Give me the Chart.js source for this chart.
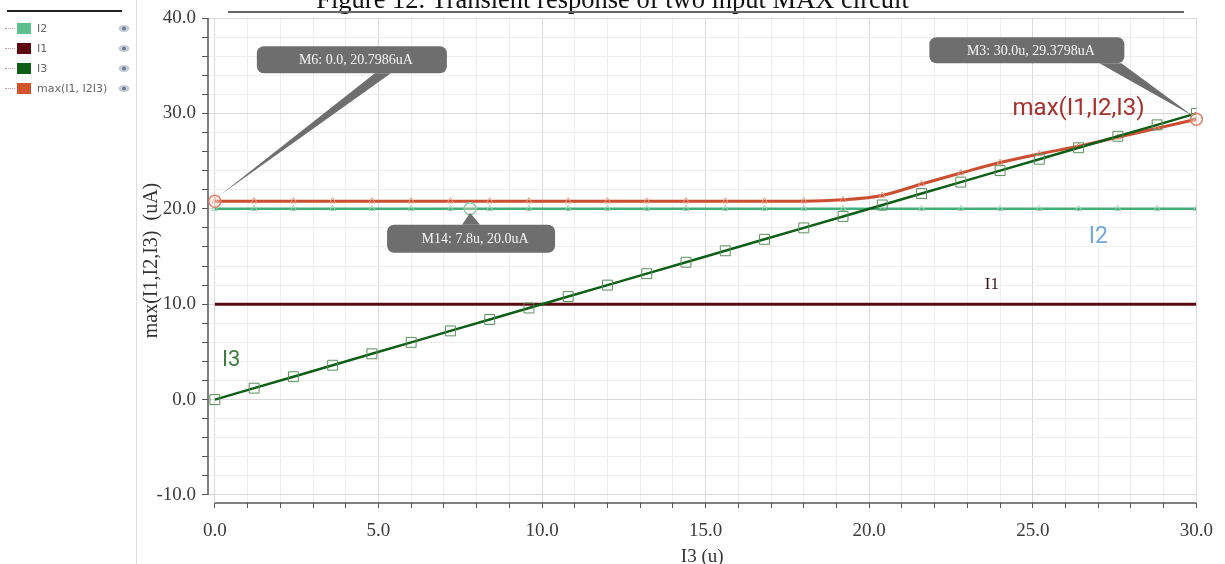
<!DOCTYPE html>
<html lang="en">
<head>
    <meta charset="UTF-8">
    <title>Transient response of two input MAX circuit</title>
    <script src="https://cdn.jsdelivr.net/npm/chart.js"></script>
    <style>
        body { margin: 0; background: #fff; overflow: hidden; }
        #wrap { position: relative; width: 1225px; height: 564px; }
        #chart { position: absolute; left: 0; top: 0; }
        .side { position: absolute; left: 0; top: 0; width: 136px; height: 564px; border-right: 1px solid #dedede; }
        .side .bar { position: absolute; left: 7px; top: 10px; width: 115px; height: 2px; background: #222; }
        .row { position: absolute; left: 0; height: 14px; width: 136px; font: 11px 'DejaVu Sans', sans-serif; color: #666; }
        .row .dash { position: absolute; left: 5px; top: 6px; width: 10px; border-top: 1px dotted #c99; }
        .row .sw { position: absolute; left: 17px; top: 1px; width: 14px; height: 11px; }
        .row .lbl { position: absolute; left: 37px; top: 0; line-height: 13px; white-space: nowrap; }
        .row svg { position: absolute; left: 118px; top: 2px; }
        .title { position: absolute; left: 0; width: 1225px; text-align: center; top: -16px;
                 font: 26.5px 'Liberation Serif', 'Times New Roman', serif; color: #111; white-space: nowrap; }
        .title-line { position: absolute; left: 228px; width: 956px; top: 11px; height: 2px; background: #666; }
    </style>
</head>
<body>
<div id="wrap">
    <canvas id="chart" width="1225" height="564"></canvas>
    <div class="title">Figure 12. Transient response of two input MAX circuit</div>
    <div class="title-line"></div>
    <div class="side">
        <div class="bar"></div>
        <div id="legendRows"></div>
    </div>
</div>
<script>
    // sample points (x axis, I3 sweep in u)
    const times = [0.0, 1.2, 2.4, 3.6, 4.8, 6.0, 7.2, 8.4, 9.6, 10.8, 12.0, 13.2, 14.4,
        15.6, 16.8, 18.0, 19.2, 20.4, 21.6, 22.8, 24.0, 25.2, 26.4, 27.6, 28.8, 30.0];
    const i3Values = [0.0, 1.2, 2.4, 3.6, 4.8, 6.0, 7.2, 8.4, 9.6, 10.8, 12.0, 13.2, 14.4,
        15.6, 16.8, 18.0, 19.2, 20.4, 21.6, 22.8, 24.0, 25.2, 26.4, 27.6, 28.8, 30.0];
    const i1Values = [10, 10, 10, 10, 10, 10, 10, 10, 10, 10, 10, 10, 10,
        10, 10, 10, 10, 10, 10, 10, 10, 10, 10, 10, 10, 10];
    const i2Values = [20, 20, 20, 20, 20, 20, 20, 20, 20, 20, 20, 20, 20,
        20, 20, 20, 20, 20, 20, 20, 20, 20, 20, 20, 20, 20];
    const maxValues = [20.80, 20.80, 20.80, 20.80, 20.80, 20.80, 20.80, 20.80, 20.80, 20.80, 20.80, 20.80, 20.80,
        20.80, 20.80, 20.80, 20.95, 21.40, 22.60, 23.75, 24.85, 25.75, 26.55, 27.50, 28.45, 29.38];

    const xTicks = [0, 1, 2, 3, 4, 5, 6, 7, 8, 9, 10, 11, 12, 13, 14, 15, 16, 17, 18, 19, 20,
        21, 22, 23, 24, 25, 26, 27, 28, 29, 30];
    const yTicks = [-10, -8, -6, -4, -2, 0, 2, 4, 6, 8, 10, 12, 14, 16, 18, 20, 22, 24, 26, 28,
        30, 32, 34, 36, 38, 40];

    // markers placed on the waveforms
    const markerNames = ['M6', 'M14', 'M3'];
    const markerX = [0.0, 7.8, 30.0];
    const markerY = [20.7986, 20.0, 29.3798];
    const markerText = ['M6: 0.0, 20.7986uA', 'M14: 7.8u, 20.0uA', 'M3: 30.0u, 29.3798uA'];

    const legendNames = ['I2', 'I1', 'I3', 'max(I1, I2I3)'];
    const legendColors = ['#5fbf90', '#5a0a10', '#0d5e16', '#d4532f'];

    // side legend
    const rowsEl = document.getElementById('legendRows');
    legendNames.forEach((name, i) => {
        const row = document.createElement('div');
        row.className = 'row';
        row.style.top = (22 + i * 20) + 'px';
        row.innerHTML = `<span class="dash"></span><span class="sw" style="background:${legendColors[i]}"></span>
            <span class="lbl">${name}</span>
            <svg width="12" height="9"><ellipse cx="6" cy="4.5" rx="5.5" ry="3.5" fill="#c5ccd6"/><circle cx="6" cy="4.5" r="2" fill="#6d7f96"/></svg>`;
        rowsEl.appendChild(row);
    });

    const pts = vals => times.map((t, i) => ({ x: t, y: vals[i] }));
    const serif = "'Liberation Serif', 'Times New Roman', serif";

    const annotations = {
        id: 'annotations',
        afterDatasetsDraw(chart) {
            const { ctx, scales: { x, y } } = chart;
            ctx.save();

            // axis lines
            ctx.strokeStyle = '#555';
            ctx.lineWidth = 1.5;
            ctx.beginPath();
            ctx.moveTo(chart.chartArea.left, chart.chartArea.top);
            ctx.lineTo(chart.chartArea.left, y.getPixelForValue(-10));
            ctx.moveTo(x.getPixelForValue(0), chart.chartArea.bottom);
            ctx.lineTo(chart.chartArea.right, chart.chartArea.bottom);
            ctx.stroke();

            // curve labels
            const labels = [
                { t: 'max(I1,I2,I3)', x: 26.4, y: 30.5, c: '#a8302c', f: "24px 'Liberation Sans Narrow', 'Roboto', sans-serif" },
                { t: 'I2', x: 27.0, y: 17.0, c: '#74a6de', f: "23px 'Liberation Sans Narrow', 'Roboto', sans-serif" },
                { t: 'I1', x: 23.75, y: 12.05, c: '#3a1012', f: "17px " + serif },
                { t: 'I3', x: 0.5, y: 4.1, c: '#3f7a3f', f: "22px 'Liberation Sans Narrow', 'Roboto', sans-serif" }
            ];
            ctx.textAlign = 'center';
            ctx.textBaseline = 'middle';
            labels.forEach(l => {
                ctx.font = l.f;
                ctx.fillStyle = l.c;
                ctx.fillText(l.t, x.getPixelForValue(l.x), y.getPixelForValue(l.y));
            });

            // marker circles
            const ringColors = ['#e0806a', '#86d0ab', '#e0806a'];
            markerNames.forEach((m, i) => {
                const px = x.getPixelForValue(markerX[i]);
                const py = y.getPixelForValue(markerY[i]);
                ctx.beginPath();
                ctx.arc(px, py, 6, 0, Math.PI * 2);
                ctx.fillStyle = 'rgba(255,230,220,0.35)';
                ctx.fill();
                ctx.strokeStyle = ringColors[i];
                ctx.lineWidth = 1.5;
                ctx.stroke();
            });

            // callout boxes: offset of box from marker, and wedge base
            const boxes = [
                { dx: 42, dy: -155, w: 190, h: 27, bx: [118, 134], tip: [5, -6] },
                { dx: -83, dy: 16, w: 168, h: 28, bx: [75, 93], tip: [0, 4], top: true },
                { dx: -267, dy: -82, w: 195, h: 26, bx: [170, 192], tip: [-3, -3] }
            ];
            ctx.font = "14px " + serif;
            boxes.forEach((b, i) => {
                const px = x.getPixelForValue(markerX[i]);
                const py = y.getPixelForValue(markerY[i]);
                const left = px + b.dx, top = py + b.dy;
                const baseY = b.top ? top : top + b.h;
                ctx.fillStyle = '#6e6e6e';
                ctx.beginPath();
                ctx.moveTo(left + b.bx[0], baseY);
                ctx.lineTo(left + b.bx[1], baseY);
                ctx.lineTo(px + b.tip[0], py + b.tip[1]);
                ctx.closePath();
                ctx.fill();
                ctx.beginPath();
                ctx.roundRect(left, top, b.w, b.h, 7);
                ctx.fill();
                ctx.fillStyle = '#f4f4f4';
                ctx.fillText(markerText[i], left + b.w / 2 + 4, top + b.h / 2 + 1);
            });
            ctx.restore();
        }
    };

    const gridColor = major => ctx => (ctx.tick && ctx.tick.value % major === 0) ? '#d9d9d9' : '#eeeeee';

    new Chart(document.getElementById('chart'), {
        type: 'line',
        data: {
            datasets: [
                {
                    label: 'I3', data: pts(i3Values), borderColor: '#0d5e16', borderWidth: 2.5,
                    pointStyle: 'rect', pointRadius: 7, pointBorderColor: '#5a8f5a', pointBorderWidth: 1,
                    pointBackgroundColor: 'rgba(0,0,0,0)', tension: 0
                },
                {
                    label: 'max(I1,I2,I3)', data: pts(maxValues), borderColor: '#cc4e30', borderWidth: 3,
                    pointStyle: 'triangle', pointRadius: 3.5, pointBorderColor: '#e39a88', pointBorderWidth: 1,
                    pointBackgroundColor: 'rgba(0,0,0,0)', cubicInterpolationMode: 'monotone'
                },
                {
                    label: 'I1', data: pts(i1Values), borderColor: '#5a0a10', borderWidth: 3,
                    pointRadius: 0, tension: 0
                },
                {
                    label: 'I2', data: pts(i2Values), borderColor: '#45ad78', borderWidth: 2.5,
                    pointStyle: 'triangle', pointRadius: 3.5, pointBorderColor: '#9fd8bb', pointBorderWidth: 1,
                    pointBackgroundColor: 'rgba(0,0,0,0)', tension: 0
                }
            ]
        },
        options: {
            responsive: false,
            animation: false,
            devicePixelRatio: 1,
            layout: { padding: { left: 140, right: 25, top: 18, bottom: 0 } },
            plugins: { legend: { display: false }, tooltip: { enabled: false } },
            scales: {
                x: {
                    type: 'linear', min: -0.21, max: 30,
                    afterBuildTicks: s => { s.ticks = xTicks.map(v => ({ value: v })); },
                    afterFit: s => { s.height = 61; },
                    border: { display: false },
                    grid: { color: gridColor(5), tickColor: '#555', tickLength: 5 },
                    ticks: {
                        autoSkip: false, maxRotation: 0, padding: 12, color: '#3a3a3a',
                        font: { family: serif, size: 19 },
                        callback: v => v % 5 === 0 ? v.toFixed(1) : ''
                    },
                    title: {
                        display: true, text: 'I3 (u)', color: '#333', padding: { top: 0, bottom: -4 },
                        font: { family: serif, size: 19 }
                    }
                },
                y: {
                    type: 'linear', min: -10.84, max: 40,
                    afterBuildTicks: s => { s.ticks = yTicks.map(v => ({ value: v })); },
                    afterFit: s => { s.width = 68; },
                    border: { display: false },
                    grid: { color: gridColor(10), tickColor: '#555', tickLength: 6 },
                    ticks: {
                        autoSkip: false, padding: 6, color: '#3a3a3a',
                        font: { family: serif, size: 19 },
                        callback: v => v % 10 === 0 ? v.toFixed(1) : ''
                    },
                    title: {
                        display: true, text: 'max(I1,I2,I3)  (uA)', color: '#333', padding: { top: 0, bottom: 0 },
                        font: { family: serif, size: 20 }
                    }
                }
            }
        },
        plugins: [annotations]
    });
</script>
</body>
</html>
